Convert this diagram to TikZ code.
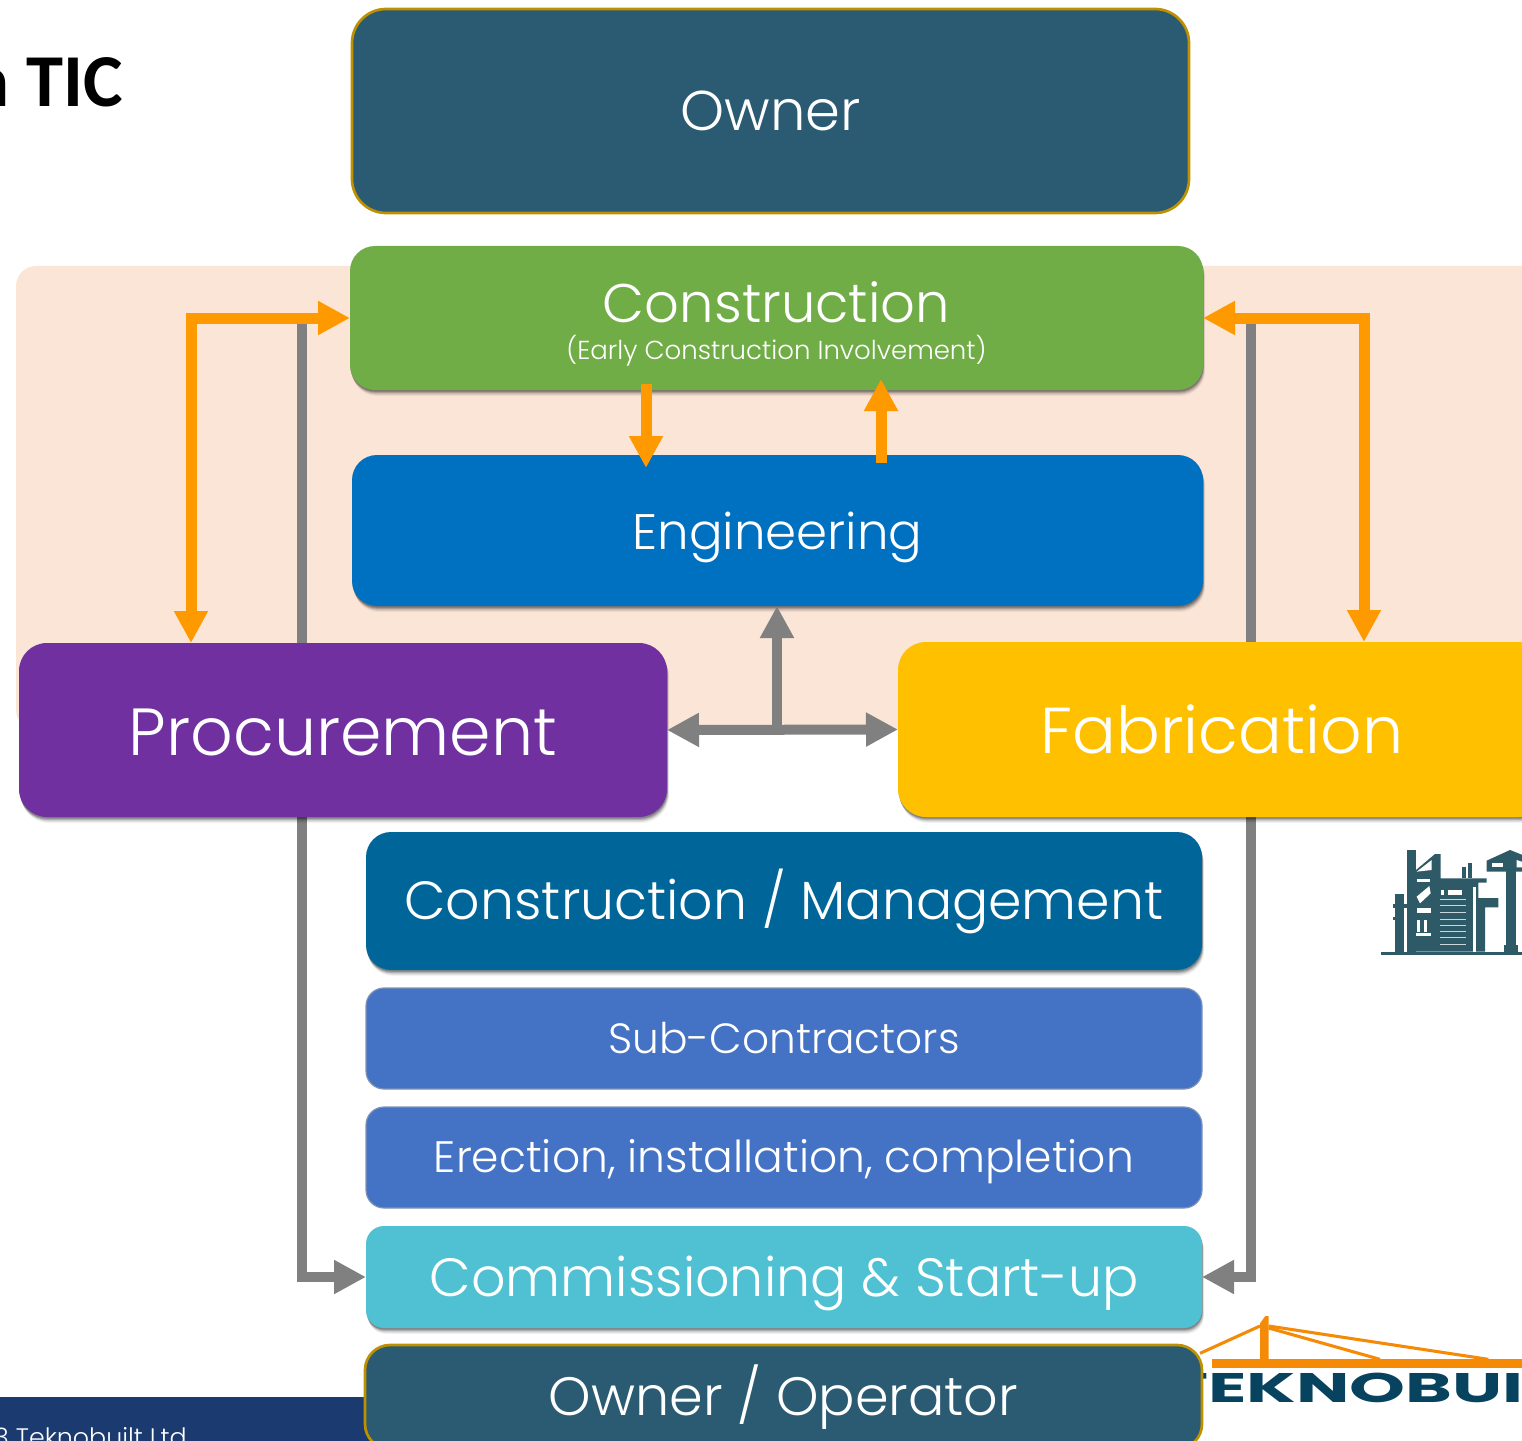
\documentclass[tikz,border=0pt]{standalone}
\usepackage{fontspec}
\setmainfont{Poppins}[UprightFont=* Light]
\newfontfamily\titlefont{Carlito}[Scale=1]
\newfontfamily\logofont{Poppins}[UprightFont=* Bold]
\usetikzlibrary{arrows.meta,calc,shadows}
\definecolor{peach}{HTML}{FBE5D6}
\definecolor{ownerc}{HTML}{2A5B73}
\definecolor{gold}{HTML}{BF9000}
\definecolor{greenc}{HTML}{70AD47}
\definecolor{engc}{HTML}{0070C0}
\definecolor{procc}{HTML}{7030A0}
\definecolor{fabc}{HTML}{FFC000}
\definecolor{cmc}{HTML}{006699}
\definecolor{subc}{HTML}{4472C4}
\definecolor{commc}{HTML}{4FC1D3}
\definecolor{orangec}{HTML}{FF9900}
\definecolor{grayc}{HTML}{808080}
\definecolor{footc}{HTML}{1B3A70}
\definecolor{iconc}{HTML}{2D5A66}
\definecolor{logoc}{HTML}{07425F}
\definecolor{bridgec}{HTML}{F58A07}
\pgfdeclarelayer{bg}
\pgfdeclarelayer{conn}
\pgfsetlayers{bg,conn,main}
\tikzset{
  softshadow/.style={
    general shadow={shadow xshift=1.5pt,shadow yshift=-4.5pt,fill=black,opacity=.05},
    general shadow={shadow xshift=1.2pt,shadow yshift=-3.6pt,fill=black,opacity=.08},
    general shadow={shadow xshift=0.9pt,shadow yshift=-2.8pt,fill=black,opacity=.12},
    general shadow={shadow xshift=0.6pt,shadow yshift=-2pt,fill=black,opacity=.16},
    general shadow={shadow xshift=0.3pt,shadow yshift=-1.2pt,fill=black,opacity=.2}},
  boxbase/.style={rectangle,inner sep=0pt,outer sep=0pt,text=white,align=center},
  orangearrow/.style={draw=orangec,line width=8.25pt,miter limit=10,-{Triangle[width=24pt,length=24pt]}},
  orangedouble/.style={draw=orangec,line width=8.25pt,miter limit=10,{Triangle[width=24pt,length=24pt]}-{Triangle[width=24pt,length=24pt]}},
  grayarrow/.style={draw=grayc,line width=7.5pt,miter limit=10,-{Triangle[width=24pt,length=24pt]}},
  graydouble/.style={draw=grayc,line width=7.5pt,{Triangle[width=24pt,length=24pt]}-{Triangle[width=24pt,length=24pt]}},
  thinedge/.style={draw=subc!55!gray!80!white,line width=0.9pt},
}
\newcommand{\boxnode}[7]{%
  \node[boxbase,rounded corners=#6*0.75pt,minimum width={(#4-#2)*0.75pt},minimum height={(#5-#3)*0.75pt},#7]
    (#1) at ({(#2+#4)/2},{(#3+#5)/2})}
\newcommand{\fs}[1]{\fontsize{#1pt}{#1pt}\selectfont}
\newcommand{\dn}[2]{\raisebox{-#1pt}[\height][\depth]{#2}}
\begin{document}
\begin{tikzpicture}[x=0.75pt,y=-0.75pt]
\useasboundingbox (0,0) rectangle (1522,1441);
\clip (0,0) rectangle (1522,1441);
% backdrop band
\begin{pgfonlayer}{bg}
\fill[peach,rounded corners=15pt] (16,266) rectangle (1600,730) ;
\end{pgfonlayer}
% footer band
\fill[footc] (0,1397) rectangle (380,1460);
\node[anchor=base east,inner sep=0pt,text=white] (foot) at (187,1446) {\fs{19}3 Teknobuilt Ltd};
% title
\node[anchor=base east,inner sep=0pt,text=black] (title) at (123,107) {\titlefont\bfseries\fs{56}n TIC};
% construction icon
\begin{scope}[shift={(1180,830)},x=0.25pt,y=-0.25pt,iconc]
  \fill (603,365) rectangle (1040,376);
  \fill (645,192) rectangle (672,365);
  \fill (638,222) rectangle (680,235);
  \fill (638,262) rectangle (680,270);
  \fill (680,60) rectangle (708,365);
  \fill (708,120) -- (765,72) -- (782,72) -- (782,145) -- (920,145) -- (920,158) -- (895,158) -- (895,204) -- (955,204) -- (955,232) -- (915,232) -- (915,365) -- (708,365) -- cycle;
  \fill (845,110) rectangle (858,145);
  \fill (865,100) rectangle (877,145);
  \fill (978,100) rectangle (1008,365);
  \fill (972,345) rectangle (1014,365);
  \fill (920,92) -- (990,60) -- (1040,80) -- (1040,125) -- (920,125) -- cycle;
  \fill[white] (935,100) rectangle (970,112);
  \fill[white] (1010,90) -- (1040,100) -- (1040,112) -- (1010,112) -- cycle;
  \fill[white] (710,125) -- (755,90) -- (755,120) -- cycle;
  \fill[white] (710,155) rectangle (750,148);
  \fill[white] (710,235) rectangle (752,250);
  \fill[white] (710,270) rectangle (720,305);
  \fill[white] (732,270) rectangle (742,305);
  \fill[white] (708,310) rectangle (752,318);
  \fill[white] (710,200) -- (748,168) -- (752,190) -- (720,220) -- cycle;
  \fill[white] (782,180) rectangle (792,196);
  \fill[white] (805,180) rectangle (845,196);
  \foreach \yy in {208,226,246,266,284,304,322,342} \fill[white!75!iconc] (780,\yy) rectangle (858,\yy+3);
  \fill[white] (880,170) rectangle (887,365);
  \fill[white] (900,170) rectangle (907,204);
  \fill[white] (672,240) rectangle (680,362);
\end{scope}
% bridge logo
\begin{scope}[shift={(1180,1300)},x=0.25pt,y=-0.25pt]
  \fill[bridgec] (95,178) rectangle (1040,203);
  \fill[bridgec] (240,70) -- (256,48) -- (266,48) -- (266,178) -- (240,178) -- cycle;
  \draw[bridgec,line width=2.3pt] (240,78) -- (60,160);
  \draw[bridgec,line width=2.3pt] (266,78) -- (925,178);
  \draw[bridgec,line width=2.3pt] (266,84) -- (600,178);
\end{scope}
\node[anchor=base west,inner sep=0pt,text=logoc,xscale=1.72] (logo) at (1166,1402) {\logofont\fs{31}TEKNOBUILT};
% boxes
\boxnode{owner}{352}{9}{1189}{213}{34}{draw=gold,line width=2pt,fill=ownerc}{\fs{42}Owner};
\boxnode{cons}{350}{246}{1203}{390}{25}{fill=greenc,softshadow}{\dn{4.5}{\begin{tabular}{@{}c@{}}\fs{40.8}Construction\\[6pt]\fs{19.5}(Early Construction Involvement)\end{tabular}}};
\boxnode{eng}{352}{455}{1203}{606}{25}{fill=engc,softshadow}{\dn{5.2}{\fs{37.4}Engineering}};
\boxnode{proc}{19}{643}{667}{817}{28}{fill=procc,softshadow}{\dn{1.5}{\fs{50}Procurement}};
\boxnode{fab}{898}{642}{1546}{817}{28}{fill=fabc,softshadow}{\fs{48.7}Fabrication};
\boxnode{cm}{366}{832}{1202}{970}{25}{fill=cmc,softshadow}{\fs{40.3}Construction / Management};
\boxnode{sub}{366}{988}{1202}{1089}{18}{fill=subc,thinedge}{\fs{31.7}Sub-Contractors};
\boxnode{erect}{366}{1107}{1202}{1208}{18}{fill=subc,thinedge}{\dn{3}{\fs{33}Erection, installation, completion}};
\boxnode{comm}{366}{1226}{1202}{1328}{18}{fill=commc,softshadow}{\dn{4.5}{\fs{40.4}Commissioning \& Start-up}};
\boxnode{oper}{365}{1345}{1202}{1449}{25}{draw=gold,line width=2pt,fill=ownerc}{\fs{40.5}Owner / Operator};
% gray connectors behind the boxes
\begin{pgfonlayer}{conn}
  \draw[grayarrow] ($(cons.west)+(-48,-5)$) |- (comm.west);
  \draw[grayarrow] ($(cons.east)+(48,-5)$) |- (comm.east);
\end{pgfonlayer}
% central gray connectors
\draw[graydouble] (proc.east) -- (fab.west);
\draw[grayarrow] ($(proc.east)!0.5!(fab.west)+(-5.5,3)$) -- ($(eng.south)+(-0.5,0)$);
% orange connectors
\draw[orangedouble] (cons.west) -| ($(proc.north)+(-152,0)$);
\draw[orangedouble] (cons.east) -| ($(fab.north)+(142,0)$);
\draw[orangearrow] ($(cons.south)+(-130.5,-6)$) -- ($(eng.north)+(-131.5,13)$);
\draw[orangearrow] ($(eng.north)+(103.5,8)$) -- ($(cons.south)+(104.5,-11)$);
\end{tikzpicture}
\end{document}
